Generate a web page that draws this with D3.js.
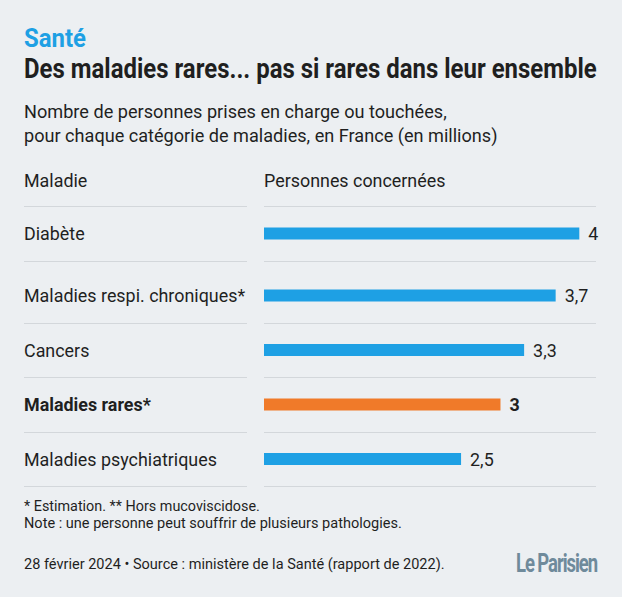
<!DOCTYPE html>
<html><head><meta charset="utf-8">
<script src="https://cdn.jsdelivr.net/npm/d3@7"></script>
<style>
html,body{margin:0;padding:0;background:#eceff2;}
svg{display:block;font-family:Roboto,"Noto Sans",sans-serif;}
</style></head>
<body><svg id="c" width="622" height="597"></svg>
<script>
// ---- data ----
const kicker = "Santé";
const title = "Des maladies rares... pas si rares dans leur ensemble";
const subtitle = ["Nombre de personnes prises en charge ou touchées,",
                  "pour chaque catégorie de maladies, en France (en millions)"];
const headers = ["Maladie", "Personnes concernées"];
const categories = ["Diabète", "Maladies respi. chroniques*", "Cancers", "Maladies rares*", "Maladies psychiatriques"];
const values = [4, 3.7, 3.3, 3, 2.5];
const valueLabels = ["4", "3,7", "3,3", "3", "2,5"];
const highlighted = ["Maladies rares*"];
const notes = ["* Estimation. ** Hors mucoviscidose.",
               "Note : une personne peut souffrir de plusieurs pathologies."];
const source = "28 février 2024 • Source : ministère de la Santé (rapport de 2022).";
const logo = "Le Parisien";

// ---- layout ----
const svg = d3.select("#c");
const W = 622, H = 597;
svg.append("rect").attr("width", W).attr("height", H).attr("fill", "#eceff2");
const L = 24;
const ink = "#1f1f1f";
const blue = "#1ea0e4", orange = "#f07a29", rule = "#d3d7db";

// place a text at (x,y), horizontally scaled so that it is w wide (or by factor k)
function place(parent, str, x, y, attrs, w, k) {
  const t = parent.append("text").attr("x", 0).attr("y", 0).text(str);
  Object.entries(attrs).forEach(([a, v]) => t.attr(a, v));
  const n = t.node().getComputedTextLength();
  const s = w ? w / n : k;
  t.attr("transform", `translate(${x},${y}) scale(${s},1)`);
  return t;
}

place(svg, kicker, L, 47, { "font-size": 26, "font-weight": 700, fill: blue }, 62);
place(svg, title, L, 78, { "font-size": 28, "font-weight": 700, fill: ink }, 573);
const subW = [423, 474];
subtitle.forEach((s, i) => place(svg, s, L, 118 + i * 24, { "font-size": 17.5, fill: ink }, subW[i]));

// condense factor from a reference label
const probe = svg.append("text").attr("font-size", 18.5).text("Maladies psychiatriques");
const kBody = 193 / probe.node().getComputedTextLength();
probe.remove();

const x = d3.scaleLinear().domain([0, 4]).range([264, 579.3]);
const colLeft = [L, 247], colRight = [264, 596];

// headers
place(svg, headers[0], L, 187, { "font-size": 18.5, fill: ink }, null, kBody);
place(svg, headers[1], x(0), 187, { "font-size": 18.5, fill: ink }, null, kBody);

// rows: long labels get a taller row
const rowTop0 = 206;
const rows = [];
let yAcc = rowTop0;
categories.forEach((c, i) => {
  const h = c.length > 25 ? 62 : 54.5;
  rows.push({ cat: c, v: values[i], lab: valueLabels[i], top: yAcc, bottom: yAcc + h, hi: highlighted.includes(c) });
  yAcc += h;
});
const yCenter = d3.scaleOrdinal().domain(categories).range(rows.map(r => r.bottom - 27));

// separators
const seps = [rowTop0].concat(rows.map(r => r.bottom));
seps.forEach(y => {
  [colLeft, colRight].forEach(cx => {
    svg.append("line").attr("x1", cx[0]).attr("x2", cx[1])
      .attr("y1", Math.round(y) + 0.5).attr("y2", Math.round(y) + 0.5)
      .attr("stroke", rule).attr("stroke-width", 1);
  });
});

const g = svg.append("g");
g.selectAll("rect.bar").data(rows).join("rect").attr("class", "bar")
  .attr("x", x(0)).attr("y", d => yCenter(d.cat) - 6)
  .attr("width", d => x(d.v) - x(0)).attr("height", 12)
  .attr("fill", d => d.hi ? orange : blue);

rows.forEach(d => {
  const a = { "font-size": 18.5, "font-weight": d.hi ? 700 : 400, fill: ink };
  place(g, d.cat, L, yCenter(d.cat) + 6.5, a, null, kBody);
  place(g, d.lab, x(d.v) + 9, yCenter(d.cat) + 6.5, a, null, kBody);
});

// footer
const noteW = [236, 378];
notes.forEach((n, i) => place(svg, n, L, 511 + i * 17.3, { "font-size": 15.5, fill: ink }, noteW[i]));
place(svg, source, L, 569, { "font-size": 15.5, fill: ink }, 421);
place(svg, logo, 516, 572, { "font-size": 26, "font-weight": 700, fill: "#6f8a9b", "letter-spacing": -1.5 }, 81);
</script></body></html>
